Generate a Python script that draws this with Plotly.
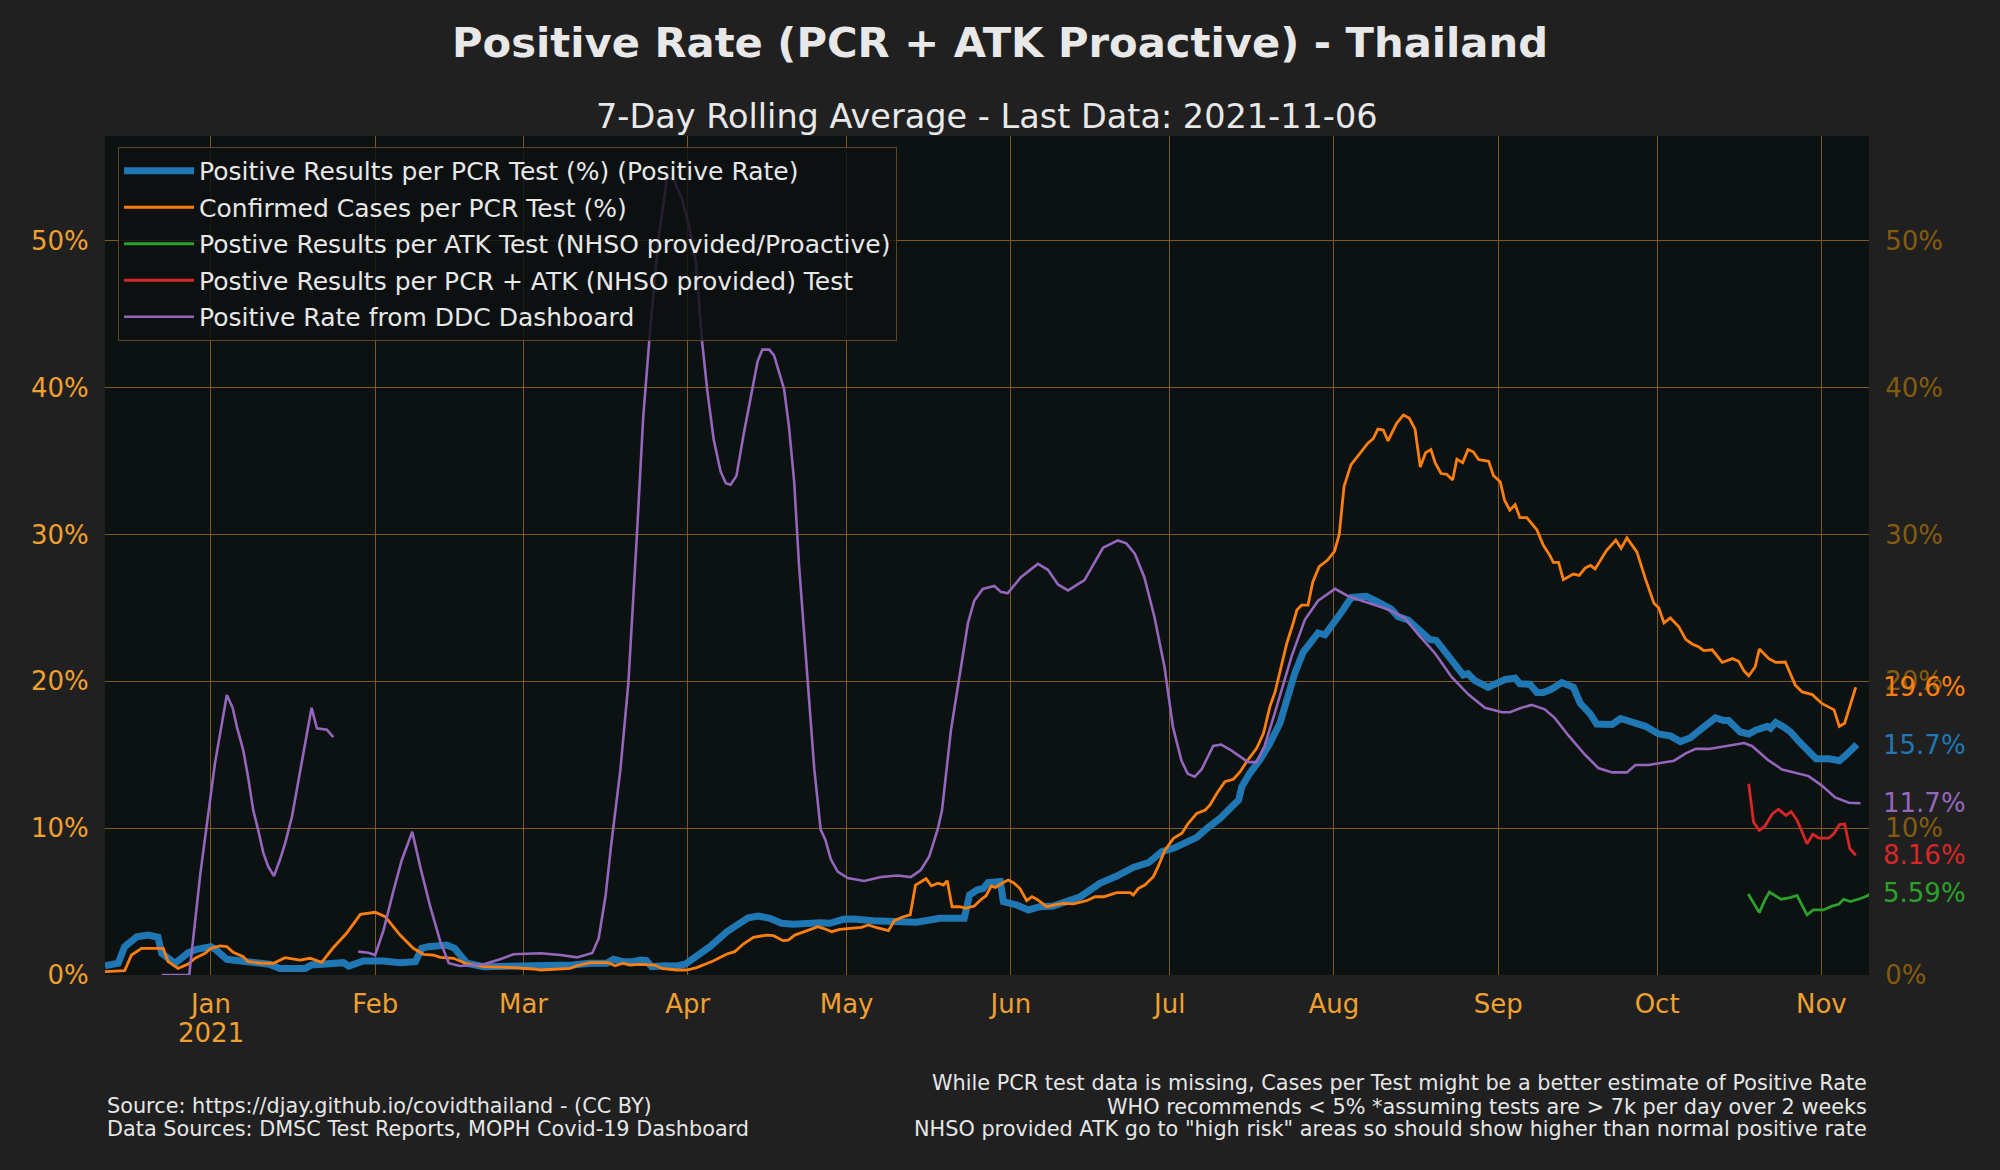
import pandas as pd
import plotly.graph_objects as go

BASE = "2021-01-01"  # day offsets below are days since this date

# Positive Results per PCR Test (%) (Positive Rate)
blue_day = [-20, -17.5, -16.3, -15.3, -14, -11.8, -10, -9.3, -6.8, -4.3, -2.7, 0, 1, 3, 5.5, 7.4, 11, 13, 17.8, 19,
            22.5, 25, 26, 28.8, 32.6, 35.7, 38.6, 39.8, 41, 44.5, 46, 48.3, 51.5, 57.8, 62.2, 68.4, 71.5, 74.7, 76,
            77.8, 79.7, 81, 82.2, 83.2, 85.4, 87.9, 89.5, 91.7, 94.2, 97.4, 99.9, 101.4, 103.3, 105.5, 107.7, 109.9,
            115, 116.8, 119.4, 121.3, 125, 128.8, 133.2, 137.6, 142.2, 143.2, 144.6, 145.8, 146.7, 149, 149.6, 152.1,
            154.3, 156.5, 159, 164.1, 167.8, 171, 174.1, 177, 179.5, 181.7, 183.9, 186.1, 188, 190.5, 192.4, 194,
            194.6, 196.1, 198, 199.9, 201.8, 203.1, 204.6, 206.2, 209, 210.3, 212.2, 213.4, 215.3, 218.1, 219.7,
            221.6, 222.8, 224.1, 226, 227.5, 228.5, 230.1, 231.3, 232.9, 234.8, 236.4, 237.3, 238.6, 241.1, 243,
            244.3, 246.2, 247.1, 249, 250.3, 251.5, 253.1, 255, 256.3, 257.2, 258.5, 260.4, 261.6, 263.2, 264.5,
            266.1, 267.7, 268.9, 270.8, 273.3, 275.5, 277.4, 279.3, 281.5, 284, 285.6, 286.5, 288.7, 290.3, 291.6,
            292.8, 293.8, 294.4, 295.4, 296.9, 298.2, 299.8, 301.1, 302, 303, 305.5, 307.4, 308.7, 310.7]
blue_val = [0.63, 0.8, 1.93, 2.16, 2.6, 2.72, 2.57, 1.48, 0.8, 1.52, 1.75, 1.93, 1.7, 1.07, 0.98, 0.84, 0.73, 0.45,
            0.45, 0.68, 0.75, 0.84, 0.61, 0.95, 0.95, 0.84, 0.91, 1.82, 1.93, 2.04, 1.82, 0.8, 0.57, 0.57, 0.57, 0.68,
            0.8, 0.8, 1.07, 0.91, 0.91, 1.02, 0.98, 0.57, 0.63, 0.61, 0.73, 1.25, 1.93, 2.95, 3.63, 3.9, 4.02, 3.86,
            3.52, 3.45, 3.56, 3.52, 3.79, 3.81, 3.7, 3.63, 3.59, 3.86, 3.86, 5.45, 5.79, 5.9, 6.29, 6.36, 4.99, 4.77,
            4.43, 4.65, 4.7, 5.33, 6.25, 6.74, 7.33, 7.65, 8.4, 8.63, 9.01, 9.38, 9.99, 10.67, 11.36, 11.92, 12.83,
            13.74, 14.65, 15.78, 17.15, 18.73, 20.55, 22.0, 23.3, 23.17, 24.0, 24.71, 25.72, 25.8, 25.51, 25.16,
            24.92, 24.41, 24.18, 23.68, 23.38, 22.85, 22.79, 21.96, 21.17, 20.43, 20.52, 20.05, 19.6, 19.92, 20.13,
            20.22, 19.84, 19.81, 19.25, 19.25, 19.48, 19.92, 19.69, 19.6, 18.51, 17.77, 17.09, 17.03, 17.07, 17.47,
            17.28, 17.25, 16.94, 16.42, 16.29, 15.9, 16.16, 16.81, 17.51, 17.33, 17.33, 16.55, 16.42, 16.68, 16.81,
            16.94, 16.81, 17.2, 16.89, 16.55, 15.9, 15.38, 15.12, 14.73, 14.73, 14.6, 14.99, 15.7]

# Confirmed Cases per PCR Test (%)
orange_day = [-20, -16.3, -15, -13.1, -9, -8.1, -6.2, -4.3, -3, -1.1, 0, 1.7, 3, 4.2, 6.1, 7, 9.3, 11.8, 14, 16.8,
              18.7, 20.9, 23, 25.6, 28.2, 31, 32.9, 35.7, 38.2, 40.1, 42, 43.3, 45.8, 48, 51.5, 55.9, 60.9, 62.2,
              67.8, 69.1, 71.6, 75, 76.3, 77.8, 79.1, 81, 83.8, 85.1, 87.9, 89.8, 91.7, 94.8, 97.4, 98.9, 100.5,
              102.4, 104.9, 106.2, 108, 109, 110.2, 112.5, 114.6, 115.6, 117.2, 118.7, 121, 122.8, 124.1, 125.7,
              127.9, 129, 130.7, 132, 133, 133.8, 135, 136, 137.3, 138.3, 139, 139.9, 141.3, 142.5, 144.1, 145.4,
              146.3, 147.3, 148.1, 149.3, 150.5, 151.5, 152.7, 154, 155, 155.9, 157.8, 159.3, 160.9, 162.8, 165.3,
              166.9, 168.5, 171, 173.5, 174.1, 175.1, 176.3, 177.9, 178.8, 180.1, 181.7, 183.3, 184.5, 186.1, 187.7,
              188.6, 189.9, 191.4, 193, 194.3, 195.5, 197.4, 198.7, 199.9, 200.9, 201.8, 203.1, 204.3, 205, 205.9,
              207.1, 208, 209.2, 210.8, 212.1, 213, 213.9, 215.2, 216.8, 218.4, 219.4, 220.3, 221.3, 222.2, 223.8,
              225.1, 226.2, 227.3, 228.3, 229.3, 230.3, 231.1, 232.2, 233.3, 234.4, 235.2, 236.3, 237.3, 238.3,
              239.3, 241.2, 242.1, 243.4, 244.2, 245.2, 246.2, 247.1, 248.4, 250.3, 251.5, 252.8, 253.4, 254.4,
              255.3, 257.2, 258.3, 259.4, 260.4, 261.3, 262.3, 263.4, 265.2, 266.2, 267.3, 269.2, 270.8, 272.4,
              273.3, 274.3, 275.5, 277.1, 278.4, 279.6, 280.9, 281.8, 283.4, 285.3, 287.2, 288.4, 289.4, 290.3,
              291.5, 292.3, 294.1, 295.4, 297.2, 299.1, 300.4, 302.3, 304.1, 306.4, 307.4, 308.4, 310.5]
orange_val = [0.23, 0.29, 1.36, 1.82, 1.82, 0.91, 0.45, 0.75, 1.14, 1.48, 1.82, 1.98, 1.93, 1.55, 1.25, 0.91, 0.8,
              0.8, 1.18, 1.02, 1.14, 0.86, 1.82, 2.84, 4.13, 4.27, 3.97, 2.72, 1.82, 1.41, 1.36, 1.2, 1.14, 0.8,
              0.57, 0.52, 0.41, 0.34, 0.45, 0.63, 0.84, 0.84, 0.63, 0.8, 0.68, 0.73, 0.68, 0.45, 0.34, 0.34, 0.5,
              0.95, 1.43, 1.59, 2.11, 2.57, 2.72, 2.68, 2.34, 2.38, 2.72, 3.0, 3.29, 3.18, 2.95, 3.11, 3.18, 3.25,
              3.41, 3.22, 3.02, 3.7, 3.97, 4.09, 6.13, 6.29, 6.56, 6.08, 6.25, 6.13, 6.42, 4.65, 4.65, 4.54, 4.7,
              5.16, 5.38, 6.06, 5.97, 6.25, 6.47, 6.29, 5.9, 5.06, 5.33, 5.16, 4.65, 4.77, 4.88, 4.84, 5.06, 5.33,
              5.33, 5.61, 5.61, 5.45, 5.9, 6.13, 6.7, 7.38, 8.51, 9.31, 9.65, 10.33, 11.01, 11.24, 11.58, 12.38,
              13.17, 13.33, 13.85, 14.53, 15.44, 16.46, 18.28, 19.3, 20.66, 22.6, 23.96, 24.86, 25.2, 25.2, 26.78,
              27.81, 28.26, 28.85, 30.03, 33.28, 34.75, 35.5, 36.23, 36.53, 37.18, 37.12, 36.38, 37.56, 38.15, 37.94,
              37.18, 34.6, 35.58, 35.79, 34.9, 34.16, 34.1, 33.72, 35.14, 34.9, 35.79, 35.64, 35.11, 34.99, 34.02,
              33.58, 32.34, 31.66, 32.04, 31.15, 31.15, 30.33, 29.29, 28.55, 28.11, 28.11, 26.93, 27.31, 27.22,
              27.72, 27.9, 27.66, 28.26, 28.9, 29.63, 29.06, 29.77, 28.8, 26.98, 25.33, 25.02, 23.98, 24.32, 23.72,
              22.86, 22.55, 22.34, 22.1, 22.15, 21.29, 21.55, 21.37, 20.72, 20.38, 20.98, 22.2, 21.55, 21.29, 21.32,
              19.73, 19.28, 19.1, 18.5, 18.06, 16.94, 17.15, 19.6]

# Postive Results per ATK Test (NHSO provided/Proactive)
green_day = [290.2, 292.3, 293.3, 294.2, 296.4, 298.1, 299.4, 301.3, 302.5, 304.4, 306, 307.3, 308.2, 309.5, 311.4,
             312.7, 313.5]
green_val = [5.52, 4.25, 5.08, 5.65, 5.16, 5.27, 5.42, 4.09, 4.43, 4.43, 4.69, 4.82, 5.16, 5.0, 5.21, 5.39, 5.59]

# Postive Results per PCR + ATK (NHSO provided) Test
red_day = [290.3, 291.2, 292.3, 293.4, 294.7, 295.9, 297.3, 298.3, 299.4, 300.4, 301.3, 302.4, 303.5, 305.4, 306.4,
           307.4, 308.4, 309.4, 310.5]
red_val = [13.03, 10.42, 9.85, 10.16, 10.95, 11.29, 10.87, 11.13, 10.56, 9.64, 8.94, 9.59, 9.33, 9.33, 9.64, 10.24,
           10.29, 8.6, 8.16]

# Positive Rate from DDC Dashboard (two separate stretches)
purple1_day = [-9.3, -4.1, -2, 0.75, 3, 4.1, 4.9, 6.1, 7, 8, 8.9, 9.9, 10.8, 11.9, 13, 14, 15.3, 16.2, 17.1, 18.1,
               19, 20, 21.9, 23.1]
purple1_val = [0, 0, 6.9, 14.4, 19.07, 18.2, 16.9, 15.3, 13.5, 11.2, 9.9, 8.3, 7.4, 6.74, 7.83, 8.97, 10.8, 12.6,
               14.6, 16.5, 18.2, 16.8, 16.7, 16.2]
purple2_day = [27.8, 29.7, 31, 32.6, 34.5, 36, 38, 39.5, 41.4, 43.3, 44.9, 47, 51.5, 54.6, 57.1, 62.2, 66, 69.1, 72,
               73.2, 74.5, 75.5, 77.3, 78.8, 80.4, 81.6, 82.9, 84.5, 86.1, 87.3, 88.9, 90.2, 91.5, 92.7, 93.7, 94.9,
               96.2, 97.2, 98.1, 99.2, 100.6, 101.9, 103.2, 104.1, 105.4, 106.3, 107.2, 108.2, 109.1, 110.1, 111,
               112, 112.9, 113.9, 115.1, 116, 117, 118.3, 120.2, 123.3, 126.5, 129.6, 132.1, 134, 135.6, 137.2, 138,
               139.7, 141.6, 142.9, 144.1, 145.7, 147.9, 149.1, 150.4, 152.9, 156.1, 158, 159.9, 161.8, 164.9, 166.5,
               168.4, 171.2, 172.8, 174.4, 176.2, 178.1, 180, 181.6, 183.2, 184.4, 185.7, 187, 189.2, 190.7, 192.6,
               195.8, 197.4, 198.9, 200.8, 204, 206.5, 209, 212.2, 214.7, 217.2, 219.4, 222.3, 225.4, 227.9, 231.1,
               234.2, 237.4, 240.5, 243.7, 245.2, 247.4, 249.3, 251.8, 253.7, 256.3, 259.4, 261.9, 264.5, 267.3,
               268.9, 271.4, 274.3, 276.2, 278.4, 280.3, 282.8, 286.5, 289.4, 290.9, 294.1, 296.6, 299.1, 301.6,
               304.1, 306.6, 309.2, 311.4]
purple2_val = [1.59, 1.52, 1.36, 3.07, 5.8, 7.8, 9.76, 7.38, 4.65, 2.27, 0.8, 0.61, 0.73, 1.07, 1.41, 1.48, 1.36, 1.2,
               1.5, 2.5, 5.4, 8.7, 14.0, 19.9, 29.9, 38.0, 43.9, 50.2, 54.3, 54.2, 52.9, 51.1, 48.7, 43.2, 39.8, 36.5,
               34.3, 33.5, 33.4, 34.0, 36.9, 39.3, 41.8, 42.6, 42.6, 42.2, 41.1, 39.9, 37.4, 33.6, 28.0, 23.2, 18.4,
               14.0, 9.9, 9.2, 7.9, 7.04, 6.6, 6.4, 6.67, 6.78, 6.67, 7.15, 8.08, 9.93, 11.2, 16.7, 21.0, 23.96, 25.5,
               26.3, 26.5, 26.1, 26.0, 27.1, 28.0, 27.6, 26.6, 26.2, 26.9, 27.9, 29.1, 29.6, 29.4, 28.7, 27.1, 24.4,
               21.0, 16.9, 14.6, 13.7, 13.5, 14.0, 15.6, 15.7, 15.3, 14.5, 14.5, 15.6, 17.8, 21.7, 24.2, 25.5, 26.3,
               25.8, 25.5, 25.2, 24.9, 24.3, 23.2, 21.9, 20.3, 19.1, 18.2, 17.9, 17.9, 18.2, 18.4, 18.1, 17.5, 16.3,
               15.0, 14.1, 13.8, 13.8, 14.3, 14.3, 14.5, 14.6, 15.1, 15.4, 15.4, 15.6, 15.8, 15.6, 14.6, 14.0, 13.76,
               13.55, 12.9, 12.1, 11.73, 11.7]

month_ticks = ["2021-01-01", "2021-02-01", "2021-03-01", "2021-04-01", "2021-05-01", "2021-06-01",
               "2021-07-01", "2021-08-01", "2021-09-01", "2021-10-01", "2021-11-01"]
month_labels = ["Jan", "Feb", "Mar", "Apr", "May", "Jun", "Jul", "Aug", "Sep", "Oct", "Nov"]
year_label = "2021"
pct_ticks = [0, 10, 20, 30, 40, 50]
pct_labels = ["0%", "10%", "20%", "30%", "40%", "50%"]

names = ["Positive Results per PCR Test (%) (Positive Rate)",
         "Confirmed Cases per PCR Test (%)",
         "Postive Results per ATK Test (NHSO provided/Proactive)",
         "Postive Results per PCR + ATK (NHSO provided) Test",
         "Positive Rate from DDC Dashboard"]
colors = ["#1f77b4", "#ff7f0e", "#2ca02c", "#d62728", "#9467bd"]

FONT = "DejaVu Sans"
TICK_COLOR = "#f0a030"
RIGHT_COLOR = "#845c10"
GRID = "#82581a"


def to_dates(days):
    return list(pd.Timestamp(BASE) + pd.to_timedelta(days, unit="D"))


purple_x = to_dates(purple1_day) + [None] + to_dates(purple2_day)
purple_y = purple1_val + [None] + purple2_val

series = [
    (to_dates(blue_day), blue_val, 7, "y"),
    (to_dates(orange_day), orange_val, 2.8, "y"),
    (to_dates(green_day), green_val, 2.8, "y"),
    (to_dates(red_day), red_val, 2.8, "y"),
    (purple_x, purple_y, 2.6, "y2"),
]

fig = go.Figure()
for i, (x, y, w, ax) in enumerate(series):
    fig.add_trace(go.Scatter(x=x, y=y, mode="lines", name=names[i], legendgroup=f"g{i}", yaxis=ax,
                             line=dict(color=colors[i], width=w), connectgaps=False))

# end-of-line value labels on the right
last_vals = [blue_val[-1], orange_val[-1], green_val[-1], red_val[-1], purple2_val[-1]]
for v, c in zip(last_vals, colors):
    fig.add_annotation(x=1, xref="paper", y=v, yref="y", xanchor="left", yanchor="middle", xshift=12,
                       text=f"{v:.3g}%", showarrow=False, font=dict(family=FONT, size=26, color=c))

# year under the Jan tick
fig.add_annotation(x=month_ticks[0], xref="x", y=-0.0691, yref="paper", xanchor="center", yanchor="middle",
                   text=year_label, showarrow=False, font=dict(family=FONT, size=26, color=TICK_COLOR))

fig.add_annotation(x=0.5, xref="paper", y=1.0238, yref="paper", xanchor="center", yanchor="middle",
                   text="7-Day Rolling Average - Last Data: 2021-11-06", showarrow=False,
                   font=dict(family=FONT, size=33.5, color="#e8e8e8"))

left_notes = ["Source: https://djay.github.io/covidthailand - (CC BY)",
              "Data Sources: DMSC Test Reports, MOPH Covid-19 Dashboard"]
right_notes = ["While PCR test data is missing, Cases per Test might be a better estimate of Positive Rate",
               "WHO recommends &lt; 5% *assuming tests are &gt; 7k per day over 2 weeks",
               "NHSO provided ATK go to \"high risk\" areas so should show higher than normal positive rate"]
for t, yy in zip(left_notes, [-0.156, -0.1835]):
    fig.add_annotation(x=0, xref="paper", y=yy, yref="paper", xanchor="left", yanchor="middle", text=t,
                       showarrow=False, font=dict(family=FONT, size=20.8, color="#e6e6e6"))
for t, yy in zip(right_notes, [-0.1287, -0.1573, -0.1835]):
    fig.add_annotation(x=1, xref="paper", y=yy, yref="paper", xanchor="right", yanchor="middle", text=t,
                       showarrow=False, font=dict(family=FONT, size=20.8, color="#e6e6e6"))

fig.update_layout(
    width=2000, height=1170,
    margin=dict(l=105, r=131, t=136, b=195),
    paper_bgcolor="#202020", plot_bgcolor="#0c1111",
    font=dict(family=FONT, color="#e6e6e6"),
    title=dict(text="<b>Positive Rate (PCR + ATK Proactive) - Thailand</b>", x=0.5, xanchor="center",
               y=1 - 42 / 1170, yanchor="middle", yref="container",
               font=dict(family=FONT, size=41.7, color="#e8e8e8")),
    showlegend=True,
    legend=dict(x=0.0074, y=0.9869, xanchor="left", yanchor="top", bgcolor="rgba(12,16,17,0.82)",
                bordercolor="#5e4521", borderwidth=1, font=dict(family=FONT, size=25, color="#e8e8e8"),
                tracegroupgap=1, itemwidth=70),
    xaxis=dict(type="date", range=["2020-12-12", "2021-11-10"], tickvals=month_ticks, ticktext=month_labels,
               showgrid=True, gridcolor=GRID, gridwidth=1, zeroline=False, showline=False,
               ticks="outside", ticklen=6, tickcolor="rgba(0,0,0,0)",
               tickfont=dict(family=FONT, size=26, color=TICK_COLOR)),
    yaxis=dict(range=[0, 57.15], tickvals=pct_ticks, ticktext=pct_labels, showgrid=True, gridcolor=GRID,
               gridwidth=1, zeroline=False, showline=False, ticks="outside", ticklen=10,
               tickcolor="rgba(0,0,0,0)", tickfont=dict(family=FONT, size=26, color=TICK_COLOR)),
    yaxis2=dict(range=[0, 57.15], overlaying="y", side="right", tickvals=pct_ticks, ticktext=pct_labels,
                showgrid=False, zeroline=False, showline=False, ticks="outside", ticklen=10,
                tickcolor="rgba(0,0,0,0)", tickfont=dict(family=FONT, size=26, color=RIGHT_COLOR)),
)

fig.write_html("out.html", config={"displayModeBar": False},
               post_script="document.body.style.margin='0';document.body.style.background='#202020';")
